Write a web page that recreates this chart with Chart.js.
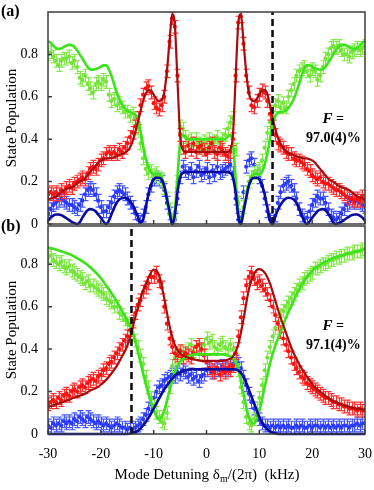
<!DOCTYPE html>
<html>
<head>
<meta charset="utf-8">
<script src="https://cdn.jsdelivr.net/npm/chart.js@4.4.1/dist/chart.umd.min.js"></script>
<style>
html,body{margin:0;padding:0;background:#fff;}
#wrap{position:relative;width:374px;height:490px;overflow:hidden;font-family:"Liberation Serif","Times New Roman",serif;color:#000;}
#ca{position:absolute;left:0;top:0;}
#cb{position:absolute;left:0;top:222px;}
.plab{position:absolute;left:1px;font-weight:bold;font-size:16px;line-height:16px;}
#xt{position:absolute;left:57px;width:300px;top:466px;text-align:center;font-size:15px;line-height:17px;white-space:pre;}
#xt sub{font-size:10px;vertical-align:-3px;line-height:0;}
</style>
</head>
<body>
<div id="wrap">
  <canvas id="ca" width="374" height="240"></canvas>
  <canvas id="cb" width="374" height="268"></canvas>
  <div class="plab" style="top:3px;">(a)</div>
  <div class="plab" style="top:218px;">(b)</div>
  <div id="xt">Mode Detuning δ<sub>m</sub>/(2π)  (kHz)</div>
</div>
<script>
// ---------- axis ticks ----------
const xTicks = [-30, -20, -10, 0, 10, 20, 30];
const yTicks = [0, 0.2, 0.4, 0.6, 0.8];
const yTickLabels = ['0', '0.2', '0.4', '0.6', '0.8'];

// ---------- detuning grids (kHz) ----------
const detuning = [
-30,-29.5,-29,-28.5,-28,-27.5,-27,-26.5,-26,-25.5,
-25,-24.5,-24,-23.5,-23,-22.5,-22,-21.5,-21,-20.5,
-20,-19.5,-19,-18.5,-18,-17.5,-17,-16.5,-16,-15.5,
-15,-14.5,-14,-13.5,-13,-12.5,-12,-11.5,-11,-10.5,
-10,-9.5,-9,-8.5,-8,-7.5,-7,-6.5,-6,-5.5,
-5,-4.5,-4,-3.5,-3,-2.5,-2,-1.5,-1,-0.5,
0,0.5,1,1.5,2,2.5,3,3.5,4,4.5,
5,5.5,6,6.5,7,7.5,8,8.5,9,9.5,
10,10.5,11,11.5,12,12.5,13,13.5,14,14.5,
15,15.5,16,16.5,17,17.5,18,18.5,19,19.5,
20,20.5,21,21.5,22,22.5,23,23.5,24,24.5,
25,25.5,26,26.5,27,27.5,28,28.5,29,29.5,
30];
const fitDetuningB = [
-30,-29,-28,-27,-26,-25,-24,-23,-22,-21,
-20,-19,-18,-17,-16,-15,-14,-13,-12,-11,
-10,-9,-8,-7,-6,-5,-4,-3,-2,-1,
0,1,2,3,4,5,6,7,8,9,
10,11,12,13,14,15,16,17,18,19,
20,21,22,23,24,25,26,27,28,29,
30];

// ---------- panel (a) measured populations ----------
const greenA = [
0.80,0.81,0.79,0.77,0.75,0.77,0.78,0.78,0.79,0.76,
0.77,0.74,0.69,0.68,0.70,0.66,0.64,0.62,0.66,0.67,
0.66,0.68,0.67,0.61,0.58,0.59,0.56,0.57,0.55,0.53,
0.53,0.51,0.52,0.50,0.45,0.38,0.31,0.26,0.24,0.25,
0.23,0.24,0.22,0.21,0.17,0.12,0.07,0.02,0.03,0.20,
0.46,0.45,0.41,0.39,0.40,0.37,0.40,0.38,0.36,0.39,
0.38,0.40,0.37,0.39,0.41,0.38,0.40,0.42,0.45,0.48,
0.50,0.35,0.10,0.02,0.08,0.15,0.20,0.22,0.24,0.25,
0.26,0.30,0.36,0.43,0.48,0.53,0.56,0.58,0.55,0.57,
0.55,0.60,0.63,0.66,0.70,0.72,0.73,0.74,0.72,0.70,
0.73,0.72,0.68,0.70,0.74,0.78,0.80,0.83,0.84,0.83,
0.84,0.82,0.80,0.80,0.79,0.81,0.82,0.83,0.82,0.83,
0.84];
const redA = [
0.14,0.15,0.14,0.15,0.14,0.16,0.15,0.17,0.18,0.17,
0.19,0.20,0.21,0.22,0.21,0.24,0.26,0.27,0.26,0.28,
0.30,0.31,0.33,0.34,0.33,0.34,0.33,0.35,0.34,0.36,
0.38,0.41,0.43,0.46,0.50,0.56,0.61,0.64,0.65,0.62,
0.57,0.55,0.54,0.56,0.60,0.72,0.86,0.97,0.93,0.70,
0.42,0.36,0.34,0.37,0.35,0.38,0.34,0.36,0.37,0.35,
0.33,0.36,0.38,0.34,0.33,0.36,0.35,0.33,0.32,0.34,
0.40,0.70,0.95,0.98,0.85,0.70,0.62,0.56,0.55,0.58,
0.61,0.63,0.62,0.58,0.52,0.46,0.42,0.38,0.37,0.36,
0.34,0.33,0.33,0.31,0.30,0.30,0.29,0.28,0.26,0.25,
0.23,0.22,0.21,0.22,0.20,0.19,0.19,0.18,0.17,0.16,
0.16,0.15,0.14,0.13,0.12,0.12,0.11,0.12,0.11,0.13,
0.11];
const blueA = [
0.05,0.07,0.09,0.10,0.11,0.12,0.11,0.10,0.09,0.09,
0.08,0.07,0.09,0.11,0.14,0.16,0.17,0.16,0.14,0.11,
0.08,0.06,0.06,0.08,0.10,0.13,0.15,0.16,0.15,0.14,
0.12,0.10,0.08,0.05,0.02,0.01,0.04,0.08,0.14,0.18,
0.21,0.22,0.21,0.20,0.16,0.10,0.05,0.01,0.02,0.12,
0.22,0.27,0.25,0.24,0.26,0.22,0.25,0.27,0.23,0.24,
0.26,0.22,0.25,0.23,0.27,0.24,0.25,0.26,0.27,0.28,
0.24,0.12,0.02,0.03,0.15,0.27,0.30,0.31,0.28,0.25,
0.22,0.18,0.12,0.06,0.02,0.01,0.04,0.10,0.15,0.18,
0.19,0.20,0.18,0.16,0.12,0.07,0.04,0.02,0.03,0.06,
0.09,0.11,0.13,0.12,0.12,0.10,0.07,0.04,0.03,0.02,
0.03,0.05,0.07,0.09,0.10,0.11,0.10,0.11,0.10,0.09,
0.08];

// ---------- panel (a) theory curves ----------
const greenFitA = [
0.862,0.855,0.84,0.83,0.826,0.828,0.835,0.842,0.845,0.843,
0.835,0.82,0.80,0.78,0.76,0.74,0.73,0.728,0.73,0.735,
0.742,0.748,0.748,0.73,0.70,0.66,0.62,0.59,0.565,0.547,
0.535,0.528,0.524,0.515,0.50,0.44,0.37,0.31,0.27,0.245,
0.235,0.235,0.235,0.22,0.18,0.12,0.05,0.0,0.06,0.22,
0.38,0.42,0.41,0.40,0.40,0.40,0.40,0.40,0.40,0.40,
0.40,0.40,0.40,0.40,0.40,0.40,0.40,0.40,0.41,0.42,
0.38,0.22,0.06,0.0,0.05,0.12,0.18,0.22,0.235,0.235,
0.235,0.245,0.28,0.33,0.40,0.47,0.51,0.525,0.528,0.53,
0.535,0.547,0.565,0.59,0.62,0.66,0.70,0.73,0.748,0.748,
0.742,0.735,0.73,0.728,0.73,0.74,0.76,0.78,0.80,0.82,
0.835,0.843,0.845,0.842,0.835,0.828,0.826,0.83,0.84,0.855,
0.862];
const redFitA = [
0.117,0.12,0.125,0.13,0.14,0.15,0.16,0.165,0.17,0.175,
0.18,0.19,0.20,0.205,0.215,0.23,0.245,0.26,0.275,0.29,
0.30,0.305,0.31,0.31,0.312,0.315,0.32,0.325,0.33,0.335,
0.345,0.36,0.39,0.43,0.48,0.53,0.58,0.615,0.632,0.63,
0.61,0.59,0.58,0.585,0.62,0.72,0.86,0.99,0.94,0.68,
0.42,0.35,0.34,0.34,0.34,0.34,0.34,0.34,0.34,0.34,
0.34,0.34,0.34,0.34,0.34,0.34,0.34,0.34,0.34,0.35,
0.42,0.68,0.94,0.99,0.86,0.72,0.62,0.585,0.58,0.59,
0.61,0.63,0.632,0.615,0.56,0.50,0.45,0.41,0.38,0.36,
0.345,0.335,0.33,0.325,0.32,0.315,0.312,0.31,0.31,0.305,
0.30,0.29,0.275,0.26,0.245,0.23,0.215,0.205,0.20,0.19,
0.18,0.175,0.17,0.165,0.16,0.15,0.14,0.13,0.125,0.12,
0.117];
const blueFitA = [
0.015,0.03,0.04,0.045,0.045,0.042,0.035,0.027,0.018,0.01,
0.004,0.0,0.008,0.03,0.05,0.065,0.07,0.068,0.06,0.045,
0.03,0.012,0.0,0.015,0.045,0.075,0.10,0.115,0.122,0.124,
0.12,0.108,0.09,0.065,0.035,0.008,0.02,0.08,0.14,0.185,
0.21,0.218,0.218,0.21,0.18,0.12,0.06,0.0,0.04,0.15,
0.22,0.24,0.245,0.245,0.245,0.245,0.245,0.245,0.245,0.245,
0.245,0.245,0.245,0.245,0.245,0.245,0.245,0.245,0.245,0.24,
0.22,0.15,0.04,0.0,0.06,0.12,0.18,0.21,0.218,0.218,
0.21,0.185,0.14,0.08,0.02,0.0,0.035,0.065,0.09,0.108,
0.12,0.124,0.122,0.115,0.10,0.075,0.045,0.015,0.0,0.012,
0.03,0.045,0.06,0.068,0.07,0.065,0.05,0.03,0.008,0.0,
0.004,0.01,0.018,0.027,0.035,0.042,0.045,0.045,0.04,0.03,
0.015];

// ---------- panel (b) measured populations ----------
const greenB = [
0.83,0.84,0.82,0.81,0.80,0.81,0.79,0.78,0.79,0.77,
0.76,0.75,0.74,0.73,0.71,0.72,0.70,0.70,0.69,0.68,
0.67,0.66,0.64,0.63,0.62,0.60,0.60,0.57,0.56,0.54,
0.52,0.51,0.48,0.44,0.41,0.37,0.33,0.27,0.22,0.17,
0.13,0.10,0.08,0.06,0.05,0.10,0.22,0.32,0.36,0.38,
0.37,0.39,0.38,0.40,0.42,0.39,0.41,0.38,0.40,0.42,
0.45,0.43,0.44,0.41,0.40,0.42,0.43,0.41,0.40,0.42,
0.40,0.35,0.30,0.22,0.15,0.08,0.05,0.04,0.07,0.12,
0.17,0.23,0.30,0.36,0.41,0.46,0.50,0.53,0.56,0.58,
0.60,0.62,0.64,0.66,0.68,0.70,0.71,0.73,0.74,0.75,
0.76,0.78,0.78,0.79,0.80,0.80,0.81,0.82,0.82,0.83,
0.83,0.84,0.84,0.85,0.85,0.85,0.86,0.86,0.86,0.87,
0.87];
const redB = [
0.14,0.15,0.16,0.15,0.17,0.16,0.18,0.19,0.18,0.20,
0.21,0.20,0.22,0.23,0.22,0.24,0.25,0.26,0.25,0.27,
0.28,0.30,0.31,0.33,0.34,0.36,0.38,0.40,0.42,0.44,
0.46,0.49,0.53,0.57,0.61,0.63,0.67,0.69,0.71,0.74,
0.74,0.76,0.72,0.69,0.60,0.52,0.45,0.41,0.38,0.37,
0.39,0.36,0.38,0.37,0.36,0.38,0.41,0.42,0.40,0.37,
0.34,0.31,0.30,0.29,0.31,0.28,0.30,0.29,0.31,0.30,
0.32,0.38,0.46,0.55,0.64,0.70,0.74,0.76,0.73,0.71,
0.72,0.70,0.68,0.66,0.63,0.60,0.56,0.52,0.48,0.45,
0.42,0.39,0.36,0.33,0.31,0.29,0.27,0.26,0.24,0.23,
0.22,0.21,0.20,0.19,0.18,0.17,0.17,0.16,0.15,0.15,
0.14,0.14,0.13,0.13,0.12,0.12,0.12,0.11,0.12,0.11,
0.11];
const blueB = [
0.04,0.03,0.05,0.04,0.05,0.04,0.06,0.05,0.06,0.05,
0.07,0.06,0.08,0.07,0.06,0.08,0.07,0.06,0.05,0.06,
0.05,0.04,0.05,0.04,0.03,0.04,0.05,0.04,0.03,0.03,
0.02,0.03,0.02,0.03,0.04,0.05,0.07,0.09,0.12,0.14,
0.17,0.20,0.22,0.23,0.25,0.26,0.27,0.28,0.27,0.29,
0.28,0.30,0.29,0.27,0.28,0.26,0.27,0.25,0.27,0.28,
0.30,0.31,0.29,0.30,0.31,0.30,0.32,0.31,0.30,0.32,
0.33,0.34,0.33,0.31,0.27,0.23,0.19,0.15,0.12,0.09,
0.07,0.05,0.04,0.04,0.03,0.04,0.03,0.04,0.03,0.04,
0.03,0.04,0.03,0.03,0.04,0.03,0.04,0.03,0.03,0.04,
0.03,0.04,0.04,0.03,0.04,0.03,0.04,0.03,0.04,0.03,
0.04,0.03,0.04,0.04,0.03,0.04,0.04,0.05,0.04,0.05,
0.05];

// ---------- panel (b) theory curves ----------
const greenFitB = [
0.879,0.873,0.865,0.857,0.848,0.836,0.822,0.806,0.786,0.762,
0.735,0.70,0.665,0.625,0.58,0.535,0.48,0.39,0.285,0.19,
0.115,0.068,0.11,0.205,0.29,0.34,0.36,0.37,0.375,0.375,
0.375,0.375,0.375,0.375,0.37,0.355,0.31,0.19,0.08,0.05,
0.11,0.22,0.33,0.415,0.48,0.545,0.60,0.655,0.70,0.74,
0.77,0.79,0.805,0.818,0.83,0.838,0.845,0.852,0.858,0.864,
0.87];
const redFitB = [
0.127,0.135,0.143,0.152,0.162,0.172,0.18,0.19,0.205,0.215,
0.232,0.255,0.285,0.32,0.365,0.415,0.50,0.595,0.675,0.735,
0.775,0.75,0.64,0.51,0.42,0.38,0.365,0.355,0.35,0.345,
0.345,0.345,0.345,0.345,0.35,0.365,0.42,0.54,0.68,0.755,
0.777,0.76,0.71,0.63,0.55,0.48,0.41,0.355,0.31,0.27,
0.235,0.21,0.19,0.17,0.155,0.145,0.135,0.128,0.122,0.118,
0.115];
const blueFitB = [
0,0,0,0,0,0,0,0,0,0,
0,0,0,0,0,0,0.005,0.015,0.04,0.075,
0.12,0.165,0.21,0.245,0.275,0.29,0.30,0.305,0.305,0.305,
0.305,0.305,0.305,0.305,0.305,0.305,0.30,0.27,0.21,0.145,
0.08,0.035,0.012,0.004,0,0,0,0,0,0,
0,0,0,0,0,0,0,0,0,0,
0];

// ---------- markers / annotations ----------
const dashDetuning = [12.5, -14.2];        // vertical dashed markers (a), (b)
const fidelityText = ['97.0(4)%', '97.1(4)%'];
const errHalfWidth = [0.03, 0.03];         // error-bar half-heights (a), (b)

// ---------- styles ----------
const SERIF = '"Liberation Serif", "Times New Roman", serif';
const tickFont = { family: SERIF, size: 14 };
const COL = {
  gData: '#74e43a', gErr: '#86e84e', gFit: '#3be31a',
  rData: '#ff1010', rErr: '#ff3434', rFit: '#a80c0c',
  bData: '#2b3bff', bErr: '#4656ff', bFit: '#0a0aa0'
};

function pts(xs, ys) { return xs.map((x, i) => ({ x: x, y: ys[i] })); }
function dataSet(xs, ys, color, errColor, err) {
  return { data: pts(xs, ys), showLine: false, pointRadius: 2.1, pointStyle: 'circle',
    backgroundColor: color, borderColor: color, pointBorderWidth: 0,
    errHalf: err, errColor: errColor, order: 2 };
}
function fitSet(xs, ys, color, width) {
  return { data: pts(xs, ys), showLine: true, pointRadius: 0, borderColor: color,
    borderWidth: width, cubicInterpolationMode: 'monotone', fill: false,
    borderJoinStyle: 'round', order: 1, clip: 3 };
}
function dashSet(x, top) {
  return { data: [{ x: x, y: 0 }, { x: x, y: top }], showLine: true, pointRadius: 0,
    borderColor: '#111', borderWidth: 2.6, borderDash: [7, 4], order: 0 };
}

const errorBarPlugin = {
  id: 'errbars',
  beforeDatasetDraw(chart, args) {
    const ds = chart.data.datasets[args.index];
    if (!ds.errHalf) return;
    const ctx = chart.ctx, ys = chart.scales.y, a = chart.chartArea;
    ctx.save();
    ctx.beginPath();
    ctx.rect(a.left, a.top, a.right - a.left, a.bottom - a.top);
    ctx.clip();
    ctx.strokeStyle = ds.errColor;
    ctx.lineWidth = 1.2;
    ctx.beginPath();
    args.meta.data.forEach((p, i) => {
      const v = ds.data[i].y;
      const t = ys.getPixelForValue(v + ds.errHalf);
      const b = ys.getPixelForValue(v - ds.errHalf);
      const x = Math.round(p.x) + 0.5;
      ctx.moveTo(x, t); ctx.lineTo(x, b);
      ctx.moveTo(x - 3, t); ctx.lineTo(x + 3, t);
      ctx.moveTo(x - 3, b); ctx.lineTo(x + 3, b);
    });
    ctx.stroke();
    ctx.restore();
  }
};

const framePlugin = {
  id: 'frame',
  afterDatasetsDraw(chart, args, opts) {
    const ctx = chart.ctx, a = chart.chartArea, xs = chart.scales.x, ys = chart.scales.y;
    ctx.save();
    ctx.strokeStyle = '#3c3c3c';
    ctx.lineWidth = 1.5;
    ctx.strokeRect(a.left, a.top, a.right - a.left, a.bottom - a.top);
    ctx.beginPath();
    ys.ticks.forEach(t => { const py = ys.getPixelForValue(t.value); ctx.moveTo(a.left, py); ctx.lineTo(a.left + 4, py); });
    xs.ticks.forEach(t => { const px = xs.getPixelForValue(t.value); ctx.moveTo(px, a.bottom); ctx.lineTo(px, a.bottom - 4); });
    ctx.stroke();
    // fidelity annotation
    const cx = xs.getPixelForValue(opts.fx);
    const y1 = ys.getPixelForValue(opts.fy1);
    const y2 = ys.getPixelForValue(opts.fy2);
    ctx.fillStyle = '#000';
    ctx.textBaseline = 'middle';
    const f1 = 'italic bold 15px ' + SERIF, f2 = 'bold 14px ' + SERIF;
    ctx.font = f1; const wF = ctx.measureText('F').width;
    ctx.font = f2; const wE = ctx.measureText(' =').width;
    let x0 = cx - (wF + wE) / 2;
    ctx.textAlign = 'left';
    ctx.font = f1; ctx.fillText('F', x0, y1);
    ctx.font = f2; ctx.fillText(' =', x0 + wF, y1);
    ctx.textAlign = 'center';
    ctx.fillText(opts.text, cx, y2);
    ctx.restore();
  }
};

function makeChart(id, datasets, o) {
  return new Chart(document.getElementById(id), {
    type: 'line',
    data: { datasets: datasets },
    options: {
      responsive: false, animation: false, events: [],
      layout: { padding: { top: o.padTop, right: 9, bottom: o.padBottom, left: 0 } },
      plugins: { legend: { display: false }, tooltip: { enabled: false },
        frame: { fx: 24, fy1: o.fy1, fy2: o.fy2, text: o.ftext } },
      scales: {
        x: {
          type: 'linear', min: -30, max: 30,
          grid: { display: false, drawTicks: false }, border: { display: false },
          ticks: { display: o.showX, padding: 12, font: tickFont, color: '#000',
            maxRotation: 0, autoSkip: false, callback: v => String(v) },
          afterBuildTicks: s => { s.ticks = xTicks.map(v => ({ value: v })); },
          afterFit: s => { s.height = o.xHeight; s.paddingLeft = 0; s.paddingRight = 0; }
        },
        y: {
          type: 'linear', min: 0, max: o.yMax,
          grid: { display: false, drawTicks: false }, border: { display: false },
          ticks: { padding: 10, font: tickFont, color: '#000', autoSkip: false,
            callback: v => yTickLabels[yTicks.indexOf(v)] },
          afterBuildTicks: s => { s.ticks = yTicks.map(v => ({ value: v })); },
          afterFit: s => { s.width = 48; s.paddingTop = 0; s.paddingBottom = 0; },
          title: { display: true, text: 'State Population', color: '#000',
            font: { family: SERIF, size: 15 }, padding: { top: 3, bottom: 0 } }
        }
      }
    },
    plugins: [errorBarPlugin, framePlugin]
  });
}

makeChart('ca', [
  dashSet(dashDetuning[0], 1.0),
  fitSet(detuning, blueFitA, COL.bFit, 2.6),
  fitSet(detuning, redFitA, COL.rFit, 2.2),
  fitSet(detuning, greenFitA, COL.gFit, 2.6),
  dataSet(detuning, redA, COL.rData, COL.rErr, errHalfWidth[0]),
  dataSet(detuning, greenA, COL.gData, COL.gErr, errHalfWidth[0]),
  dataSet(detuning, blueA, COL.bData, COL.bErr, errHalfWidth[0])
], { padTop: 12, padBottom: 16, xHeight: 0, showX: false, yMax: 1.0,
     fy1: 0.494, fy2: 0.402, ftext: fidelityText[0] });

makeChart('cb', [
  dashSet(dashDetuning[1], 0.98),
  fitSet(fitDetuningB, blueFitB, COL.bFit, 2.6),
  fitSet(fitDetuningB, redFitB, COL.rFit, 2.2),
  fitSet(fitDetuningB, greenFitB, COL.gFit, 2.6),
  dataSet(detuning, redB, COL.rData, COL.rErr, errHalfWidth[1]),
  dataSet(detuning, greenB, COL.gData, COL.gErr, errHalfWidth[1]),
  dataSet(detuning, blueB, COL.bData, COL.bErr, errHalfWidth[1])
], { padTop: 2, padBottom: 0, xHeight: 56, showX: true, yMax: 0.98,
     fy1: 0.507, fy2: 0.419, ftext: fidelityText[1] });
</script>
</body>
</html>
